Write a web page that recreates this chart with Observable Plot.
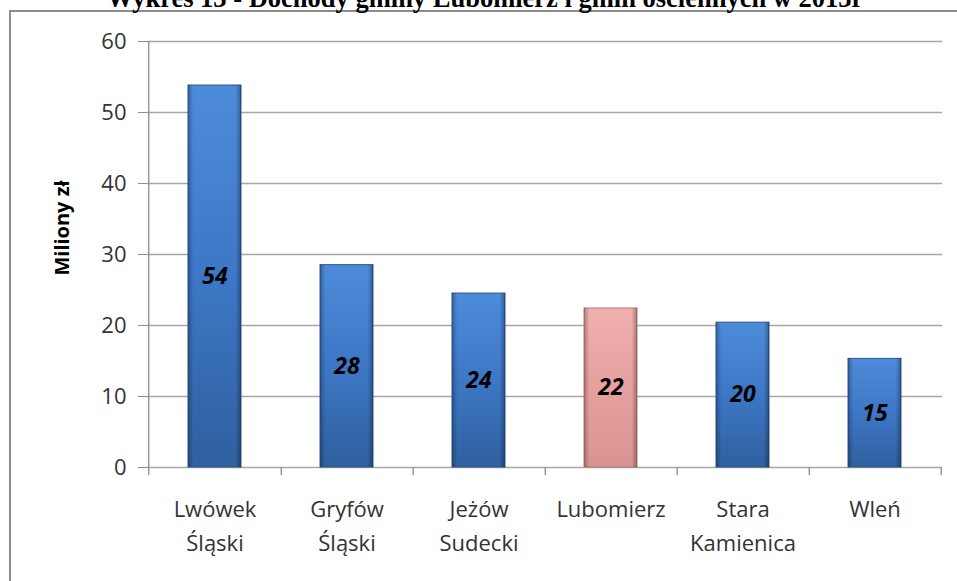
<!DOCTYPE html>
<html>
<head>
<meta charset="utf-8">
<script src="https://cdn.jsdelivr.net/npm/d3@7"></script>
<script src="https://cdn.jsdelivr.net/npm/@observablehq/plot@0.6"></script>
<style>
  html, body { margin: 0; padding: 0; background: #fff; overflow: hidden; }
  #wrap { position: relative; width: 957px; height: 581px; overflow: hidden; }
  #frame { position: absolute; left: 9px; top: 10px; width: 1000px; height: 700px;
           border-left: 2px solid #8c8c8c; border-top: 2px solid #8c8c8c; box-sizing: border-box; }
  #title { position: absolute; left: 0; width: 970px; top: -15px; text-align: center;
           font: bold 26.5px "Liberation Serif", "Times New Roman", serif; line-height: 26px; color: #000; white-space: nowrap; }
  #ylabel { position: absolute; left: 61px; top: 228px; transform: translate(-50%, -50%) rotate(-90deg);
            font: bold 20px "Open Sans", sans-serif; color: #000; white-space: nowrap; }
  #chart { position: absolute; left: 0; top: 0; }
  #chart svg { font-family: "Open Sans", sans-serif; }
  #chart g[aria-label="y-axis tick"] path { stroke: #8c8c8c; }
  #chart g[aria-label="y-axis tick label"] { fill: #333; }
  #chart g[aria-label="x-axis tick label"] { fill: #333; }
</style>
</head>
<body>
<div id="wrap">
  <div id="frame"></div>
  <div id="chart"></div>
  <div id="title"></div>
  <div id="ylabel"></div>
</div>
<script>
const titleText = "Wykres 13 - Dochody gminy Lubomierz i gmin ościennych w 2013r";
const yLabelText = "Miliony zł";
const categories = ["Lwówek Śląski", "Gryfów Śląski", "Jeżów Sudecki", "Lubomierz", "Stara Kamienica", "Wleń"];
const values = [53.8, 28.5, 24.5, 22.4, 20.4, 15.3];
const valueLabels = ["54", "28", "24", "22", "20", "15"];
const highlighted = "Lubomierz";
const yTicks = [0, 10, 20, 30, 40, 50, 60];

document.getElementById("title").textContent = titleText;
document.getElementById("ylabel").textContent = yLabelText;

const data = categories.map((c, i) => ({gmina: c, value: values[i], label: valueLabels[i]}));

const W = 957, H = 581, mL = 147, mR = 15, mT = 41, mB = 114;
const step = (W - mL - mR) / categories.length;

const chart = Plot.plot({
  width: W, height: H,
  marginLeft: mL, marginRight: mR, marginTop: mT, marginBottom: mB,
  style: {fontSize: "22px", fontFamily: "Open Sans, sans-serif", background: "transparent", overflow: "visible"},
  x: {domain: categories, paddingInner: 0.6, paddingOuter: 0.3, label: null},
  y: {domain: [0, 60], ticks: yTicks, tickSize: 9, tickPadding: 12, label: null},
  marks: [
    Plot.ruleY(yTicks, {stroke: "#a6a6a6", strokeWidth: 1.3}),
    Plot.ruleX([categories[0]], {x: d => d, y1: 60, y2: 0, dx: -step / 2, insetBottom: -8, stroke: "#8c8c8c", strokeWidth: 1.3}),
    Plot.ruleX(categories, {x: d => d, y1: 0, y2: 0, dx: step / 2, insetBottom: -8, stroke: "#8c8c8c", strokeWidth: 1.3}),
    Plot.barY(data.filter(d => d.gmina !== highlighted), {x: "gmina", y: "value", fill: "url(#gBlue)", stroke: "#2b5791", strokeWidth: 1}),
    Plot.barY(data.filter(d => d.gmina === highlighted), {x: "gmina", y: "value", fill: "url(#gPink)", stroke: "#b67a78", strokeWidth: 1}),
    Plot.barY(data, {x: "gmina", y: "value", fill: "url(#gEdge)"}),
    Plot.text(data, {x: "gmina", y: d => d.value / 2, text: "label", fontSize: 23, fontWeight: "bold", fontStyle: "italic", fill: "#000"}),
    Plot.axisX({tickSize: 0, tickPadding: 25, lineHeight: 1.55, fontSize: 22, fill: "#333",
                tickFormat: d => d.replace(" ", "\n"), label: null})
  ]
});

const svgNS = "http://www.w3.org/2000/svg";
const svg = chart.tagName.toLowerCase() === "svg" ? chart : chart.querySelector("svg");
const defs = document.createElementNS(svgNS, "defs");
function grad(id, stops, horizontal) {
  const g = document.createElementNS(svgNS, "linearGradient");
  g.setAttribute("id", id);
  g.setAttribute("x1", "0"); g.setAttribute("y1", "0");
  g.setAttribute("x2", horizontal ? "1" : "0"); g.setAttribute("y2", horizontal ? "0" : "1");
  for (const [o, c, a] of stops) {
    const s = document.createElementNS(svgNS, "stop");
    s.setAttribute("offset", o); s.setAttribute("stop-color", c);
    if (a != null) s.setAttribute("stop-opacity", a);
    g.appendChild(s);
  }
  defs.appendChild(g);
}
grad("gBlue", [["0", "#4d8cda"], ["0.5", "#3d77c5"], ["1", "#2f609f"]]);
grad("gPink", [["0", "#efb0ae"], ["0.5", "#e6a09e"], ["1", "#d99492"]]);
grad("gEdge", [["0", "#000", 0.28], ["0.1", "#000", 0.0], ["0.9", "#000", 0.0], ["1", "#000", 0.32]], true);
svg.insertBefore(defs, svg.firstChild);

document.getElementById("chart").appendChild(chart);
</script>
</body>
</html>
